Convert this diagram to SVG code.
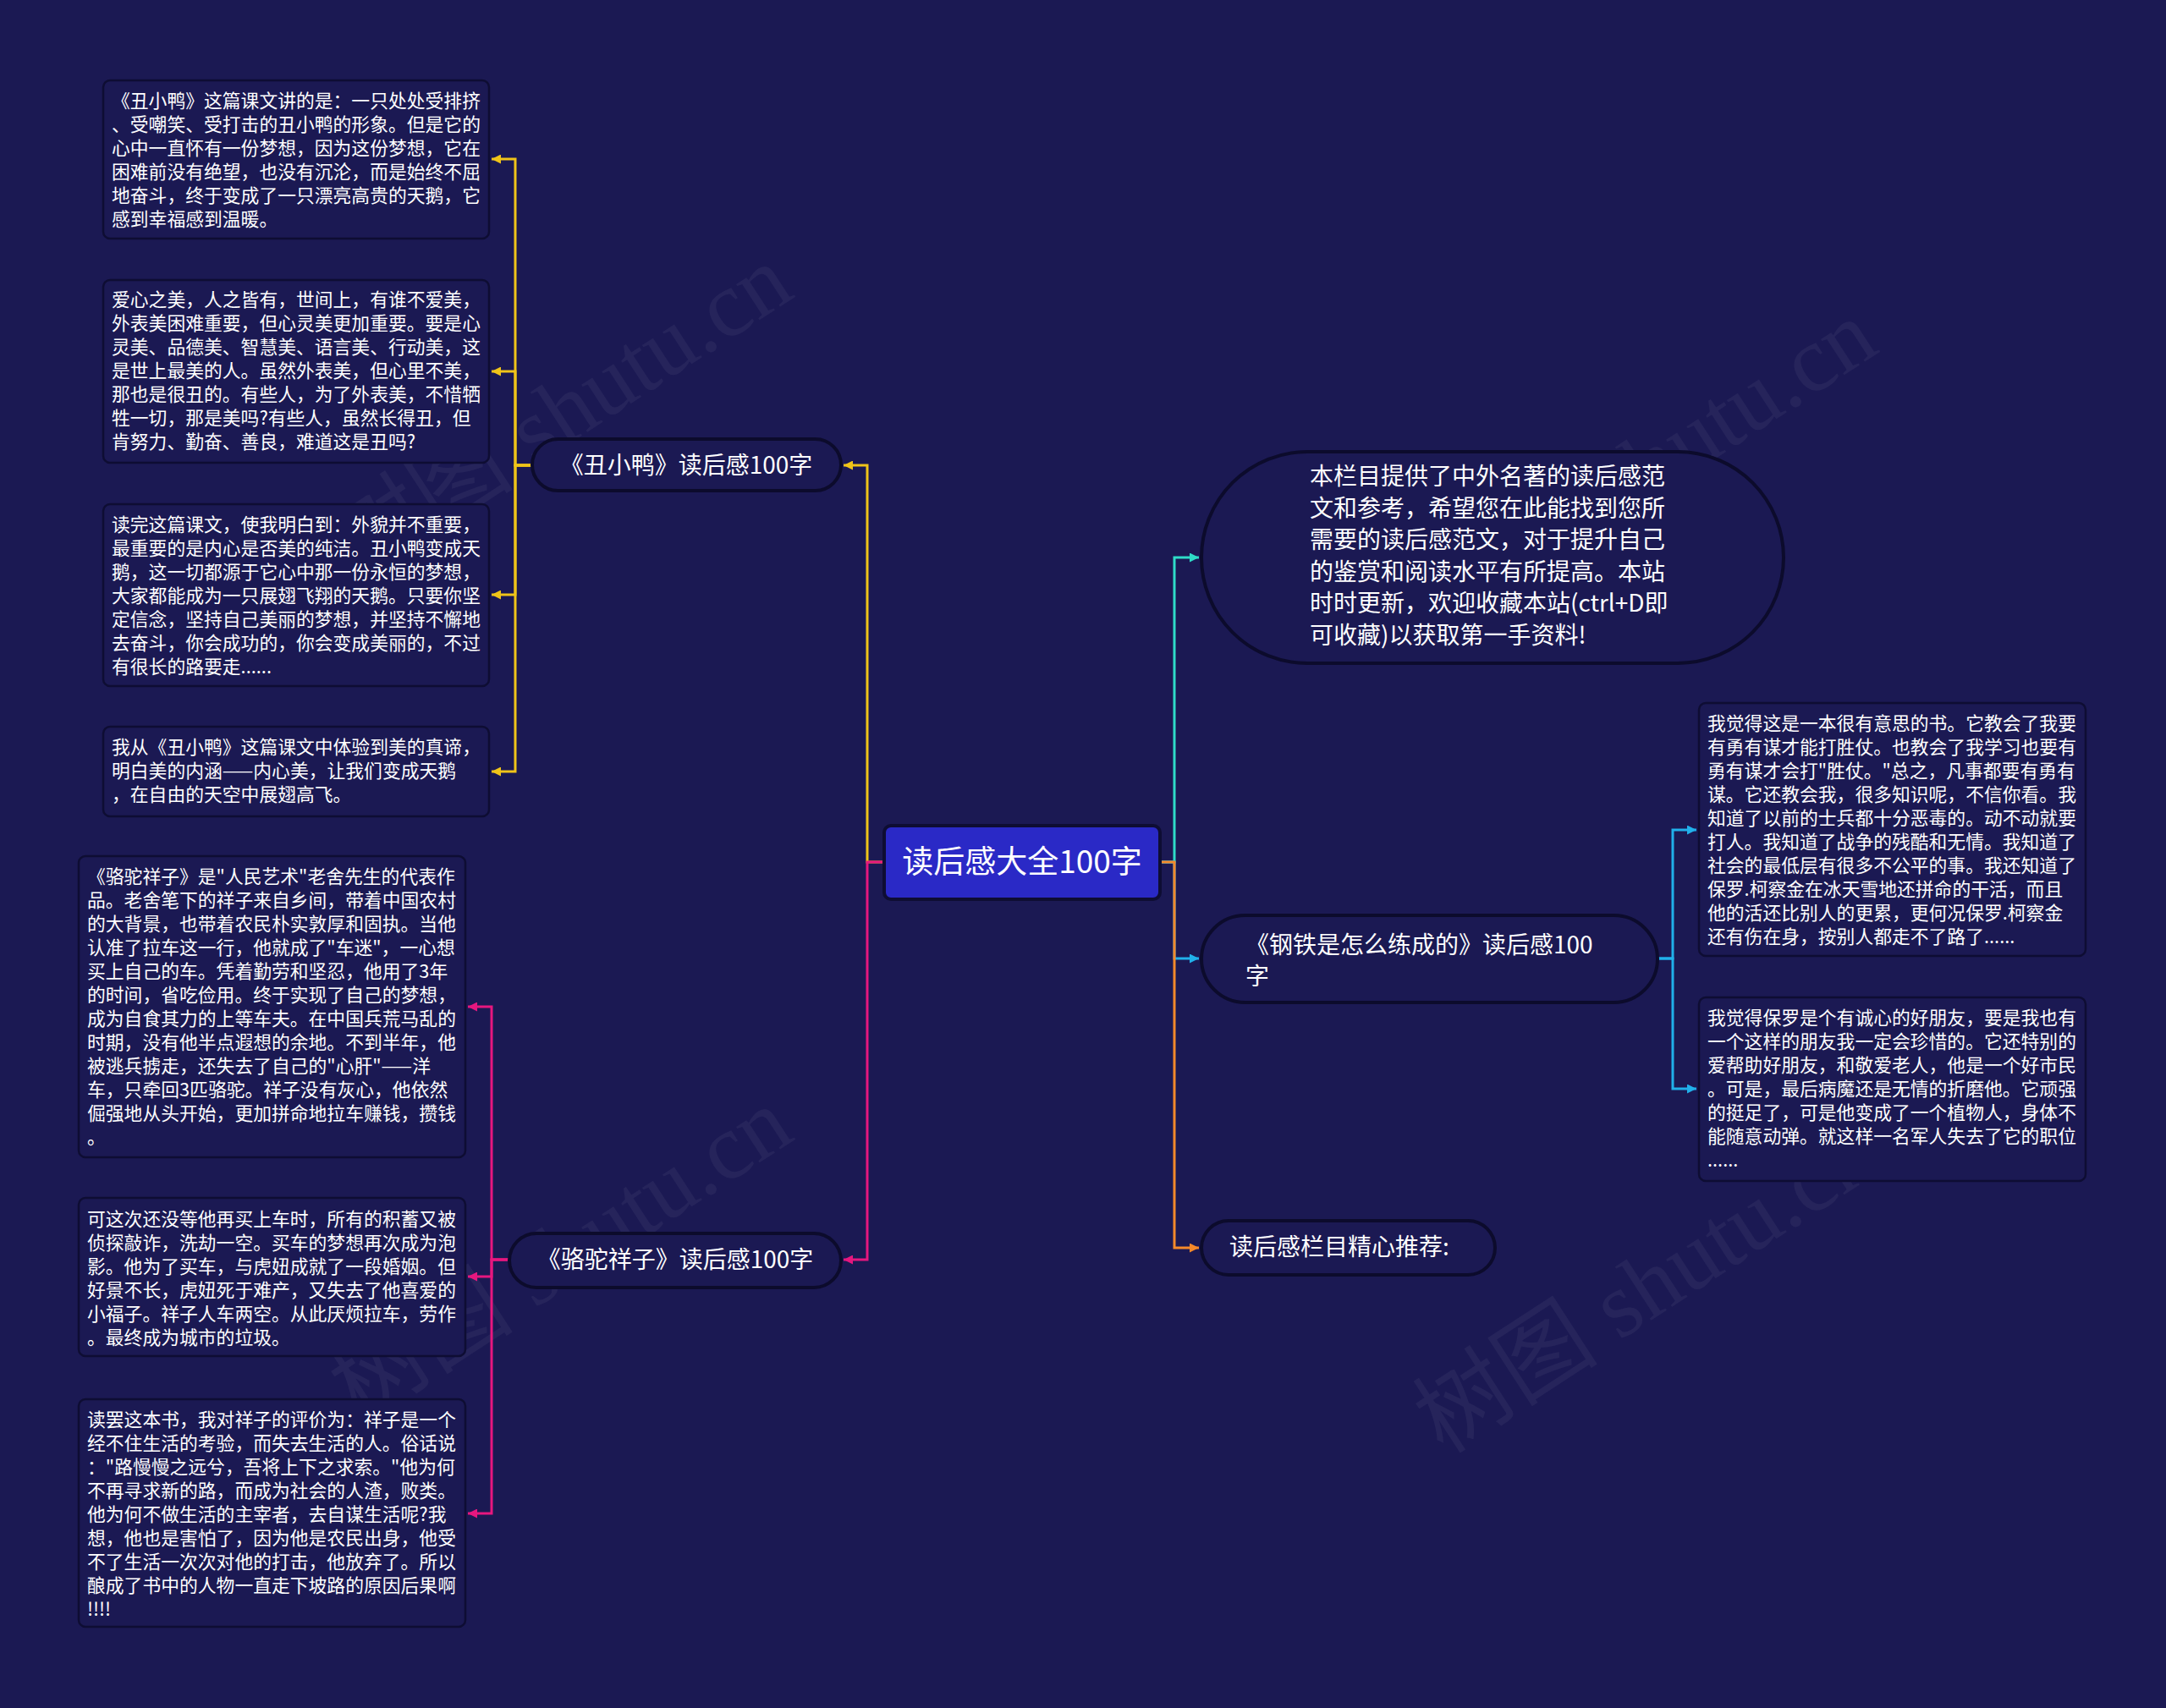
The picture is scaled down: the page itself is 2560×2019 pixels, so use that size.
<svg xmlns="http://www.w3.org/2000/svg" width="2560" height="2019" viewBox="0 0 2560 2019">
<defs>
<style>
.bg{fill:#1b1953}
.box{fill:#1b1953;stroke:#0e0d33;stroke-width:2.5}
.pill{fill:#1b1953;stroke:#0c0b2c;stroke-width:4}
.t{font-family:"Noto Sans CJK SC","Noto Sans",sans-serif;fill:#ffffff}
.s{font-size:21.8px}
.m{font-size:28px}
.c{font-size:37px}
.ln{fill:none;stroke-width:3}
.wm{font-family:"Liberation Serif","Noto Sans CJK SC",serif;font-size:110px;fill:#ffffff;fill-opacity:0.05}
</style>
<marker id="aY" viewBox="0 0 10 10" refX="10" refY="5" markerWidth="11" markerHeight="11" markerUnits="userSpaceOnUse" orient="auto"><path d="M0,0L10,5L0,10z" fill="#f0c419"/></marker>
<marker id="aM" viewBox="0 0 10 10" refX="10" refY="5" markerWidth="11" markerHeight="11" markerUnits="userSpaceOnUse" orient="auto"><path d="M0,0L10,5L0,10z" fill="#e6177f"/></marker>
<marker id="aC" viewBox="0 0 10 10" refX="10" refY="5" markerWidth="11" markerHeight="11" markerUnits="userSpaceOnUse" orient="auto"><path d="M0,0L10,5L0,10z" fill="#2fdcc8"/></marker>
<marker id="aB" viewBox="0 0 10 10" refX="10" refY="5" markerWidth="11" markerHeight="11" markerUnits="userSpaceOnUse" orient="auto"><path d="M0,0L10,5L0,10z" fill="#21b0ea"/></marker>
<marker id="aO" viewBox="0 0 10 10" refX="10" refY="5" markerWidth="11" markerHeight="11" markerUnits="userSpaceOnUse" orient="auto"><path d="M0,0L10,5L0,10z" fill="#f5892a"/></marker>
</defs>
<rect class="bg" x="0" y="0" width="2560" height="2019"/>

<g id="watermarks">
<text class="wm" transform="translate(424,686) rotate(-33)">树图 shutu.cn</text>
<text class="wm" transform="translate(1706,751) rotate(-33)">树图 shutu.cn</text>
<text class="wm" transform="translate(424,1682) rotate(-33)">树图 shutu.cn</text>
<text class="wm" transform="translate(1706,1720) rotate(-33)">树图 shutu.cn</text>
</g>

<g id="connectors">
<path class="ln" stroke="#f0c419" marker-end="url(#aY)" d="M1045,1019H1025V550H997"/>
<path class="ln" stroke="#e6177f" marker-end="url(#aM)" d="M1045,1019H1025V1489H997"/>
<path class="ln" stroke="#f0c419" marker-end="url(#aY)" d="M629,550H609V188H581"/>
<path class="ln" stroke="#f0c419" marker-end="url(#aY)" d="M629,550H609V439H581"/>
<path class="ln" stroke="#f0c419" marker-end="url(#aY)" d="M629,550H609V703H581"/>
<path class="ln" stroke="#f0c419" marker-end="url(#aY)" d="M629,550H609V912H581"/>
<path class="ln" stroke="#e6177f" marker-end="url(#aM)" d="M602,1489H581V1190H553"/>
<path class="ln" stroke="#e6177f" marker-end="url(#aM)" d="M602,1489H581V1509H553"/>
<path class="ln" stroke="#e6177f" marker-end="url(#aM)" d="M602,1489H581V1789H553"/>
<path class="ln" stroke="#2fdcc8" marker-end="url(#aC)" d="M1371,1019H1388V659H1417"/>
<path class="ln" stroke="#21b0ea" marker-end="url(#aB)" d="M1371,1019H1388V1133H1417"/>
<path class="ln" stroke="#f5892a" marker-end="url(#aO)" d="M1371,1019H1388V1475H1417"/>
<path class="ln" stroke="#21b0ea" marker-end="url(#aB)" d="M1959,1133H1977V981H2005"/>
<path class="ln" stroke="#21b0ea" marker-end="url(#aB)" d="M1959,1133H1977V1287H2005"/>
</g>

<g id="root">
<rect x="1045" y="976" width="326" height="87" rx="8" fill="#2a29c6" stroke="#0e0d33" stroke-width="4"/>
<text class="t c" x="1208" y="1032" text-anchor="middle">读后感大全100字</text>
</g>

<g id="n-chouxiaoya">
<rect class="pill" x="629" y="519" width="365" height="61" rx="30.5"/>
<text class="t m" x="811" y="560" text-anchor="middle">《丑小鸭》读后感100字</text>
</g>

<g id="n-luotuo">
<rect class="pill" x="602" y="1458" width="392" height="64" rx="32"/>
<text class="t m" x="798" y="1499" text-anchor="middle">《骆驼祥子》读后感100字</text>
</g>

<g id="n-intro">
<rect class="pill" x="1420" y="534" width="688" height="250" rx="125"/>
<text class="t m" x="1548" y="573">本栏目提供了中外名著的读后感范</text>
<text class="t m" x="1548" y="611">文和参考，希望您在此能找到您所</text>
<text class="t m" x="1548" y="648">需要的读后感范文，对于提升自己</text>
<text class="t m" x="1548" y="686">的鉴赏和阅读水平有所提高。本站</text>
<text class="t m" x="1548" y="723">时时更新，欢迎收藏本站(ctrl+D即</text>
<text class="t m" x="1548" y="761">可收藏)以获取第一手资料!</text>
</g>

<g id="n-gangtie">
<rect class="pill" x="1420" y="1082" width="539" height="103" rx="51.5"/>
<text class="t m" x="1472" y="1127">《钢铁是怎么练成的》读后感100</text>
<text class="t m" x="1472" y="1164">字</text>
</g>

<g id="n-tuijian">
<rect class="pill" x="1420" y="1443" width="347" height="64" rx="32"/>
<text class="t m" x="1453" y="1484">读后感栏目精心推荐:</text>
</g>

<g id="b1">
<rect class="box" x="122" y="95" width="456" height="187" rx="8"/>
<text class="t s" x="132" y="127">《丑小鸭》这篇课文讲的是：一只处处受排挤</text>
<text class="t s" x="132" y="155">、受嘲笑、受打击的丑小鸭的形象。但是它的</text>
<text class="t s" x="132" y="183">心中一直怀有一份梦想，因为这份梦想，它在</text>
<text class="t s" x="132" y="211">困难前没有绝望，也没有沉沦，而是始终不屈</text>
<text class="t s" x="132" y="239">地奋斗，终于变成了一只漂亮高贵的天鹅，它</text>
<text class="t s" x="132" y="267">感到幸福感到温暖。</text>
</g>

<g id="b2">
<rect class="box" x="122" y="331" width="456" height="216" rx="8"/>
<text class="t s" x="132" y="362">爱心之美，人之皆有，世间上，有谁不爱美，</text>
<text class="t s" x="132" y="390">外表美困难重要，但心灵美更加重要。要是心</text>
<text class="t s" x="132" y="418">灵美、品德美、智慧美、语言美、行动美，这</text>
<text class="t s" x="132" y="446">是世上最美的人。虽然外表美，但心里不美，</text>
<text class="t s" x="132" y="474">那也是很丑的。有些人，为了外表美，不惜牺</text>
<text class="t s" x="132" y="502">牲一切，那是美吗?有些人，虽然长得丑，但</text>
<text class="t s" x="132" y="530">肯努力、勤奋、善良，难道这是丑吗?</text>
</g>

<g id="b3">
<rect class="box" x="122" y="596" width="456" height="215" rx="8"/>
<text class="t s" x="132" y="628">读完这篇课文，使我明白到：外貌并不重要，</text>
<text class="t s" x="132" y="656">最重要的是内心是否美的纯洁。丑小鸭变成天</text>
<text class="t s" x="132" y="684">鹅，这一切都源于它心中那一份永恒的梦想，</text>
<text class="t s" x="132" y="712">大家都能成为一只展翅飞翔的天鹅。只要你坚</text>
<text class="t s" x="132" y="740">定信念，坚持自己美丽的梦想，并坚持不懈地</text>
<text class="t s" x="132" y="768">去奋斗，你会成功的，你会变成美丽的，不过</text>
<text class="t s" x="132" y="796">有很长的路要走......</text>
</g>

<g id="b4">
<rect class="box" x="122" y="859" width="456" height="106" rx="8"/>
<text class="t s" x="132" y="891">我从《丑小鸭》这篇课文中体验到美的真谛，</text>
<text class="t s" x="132" y="919">明白美的内涵——内心美，让我们变成天鹅</text>
<text class="t s" x="132" y="947">，在自由的天空中展翅高飞。</text>
</g>

<g id="b5">
<rect class="box" x="93" y="1012" width="457" height="356" rx="8"/>
<text class="t s" x="103" y="1044">《骆驼祥子》是"人民艺术"老舍先生的代表作</text>
<text class="t s" x="103" y="1072">品。老舍笔下的祥子来自乡间，带着中国农村</text>
<text class="t s" x="103" y="1100">的大背景，也带着农民朴实敦厚和固执。当他</text>
<text class="t s" x="103" y="1128">认准了拉车这一行，他就成了"车迷"，一心想</text>
<text class="t s" x="103" y="1156">买上自己的车。凭着勤劳和坚忍，他用了3年</text>
<text class="t s" x="103" y="1184">的时间，省吃俭用。终于实现了自己的梦想，</text>
<text class="t s" x="103" y="1212">成为自食其力的上等车夫。在中国兵荒马乱的</text>
<text class="t s" x="103" y="1240">时期，没有他半点遐想的余地。不到半年，他</text>
<text class="t s" x="103" y="1268">被逃兵掳走，还失去了自己的"心肝"——洋</text>
<text class="t s" x="103" y="1296">车，只牵回3匹骆驼。祥子没有灰心，他依然</text>
<text class="t s" x="103" y="1324">倔强地从头开始，更加拼命地拉车赚钱，攒钱</text>
<text class="t s" x="103" y="1352">。</text>
</g>

<g id="b6">
<rect class="box" x="93" y="1416" width="457" height="187" rx="8"/>
<text class="t s" x="103" y="1449">可这次还没等他再买上车时，所有的积蓄又被</text>
<text class="t s" x="103" y="1477">侦探敲诈，洗劫一空。买车的梦想再次成为泡</text>
<text class="t s" x="103" y="1505">影。他为了买车，与虎妞成就了一段婚姻。但</text>
<text class="t s" x="103" y="1533">好景不长，虎妞死于难产，又失去了他喜爱的</text>
<text class="t s" x="103" y="1561">小福子。祥子人车两空。从此厌烦拉车，劳作</text>
<text class="t s" x="103" y="1589">。最终成为城市的垃圾。</text>
</g>

<g id="b7">
<rect class="box" x="93" y="1654" width="457" height="269" rx="8"/>
<text class="t s" x="103" y="1686">读罢这本书，我对祥子的评价为：祥子是一个</text>
<text class="t s" x="103" y="1714">经不住生活的考验，而失去生活的人。俗话说</text>
<text class="t s" x="103" y="1742">："路慢慢之远兮，吾将上下之求索。"他为何</text>
<text class="t s" x="103" y="1770">不再寻求新的路，而成为社会的人渣，败类。</text>
<text class="t s" x="103" y="1798">他为何不做生活的主宰者，去自谋生活呢?我</text>
<text class="t s" x="103" y="1826">想，他也是害怕了，因为他是农民出身，他受</text>
<text class="t s" x="103" y="1854">不了生活一次次对他的打击，他放弃了。所以</text>
<text class="t s" x="103" y="1882">酿成了书中的人物一直走下坡路的原因后果啊</text>
<text class="t s" x="103" y="1910">!!!!</text>
</g>

<g id="b8">
<rect class="box" x="2008" y="831" width="457" height="299" rx="8"/>
<text class="t s" x="2018" y="863">我觉得这是一本很有意思的书。它教会了我要</text>
<text class="t s" x="2018" y="891">有勇有谋才能打胜仗。也教会了我学习也要有</text>
<text class="t s" x="2018" y="919">勇有谋才会打"胜仗。"总之，凡事都要有勇有</text>
<text class="t s" x="2018" y="947">谋。它还教会我，很多知识呢，不信你看。我</text>
<text class="t s" x="2018" y="975">知道了以前的士兵都十分恶毒的。动不动就要</text>
<text class="t s" x="2018" y="1003">打人。我知道了战争的残酷和无情。我知道了</text>
<text class="t s" x="2018" y="1031">社会的最低层有很多不公平的事。我还知道了</text>
<text class="t s" x="2018" y="1059">保罗.柯察金在冰天雪地还拼命的干活，而且</text>
<text class="t s" x="2018" y="1087">他的活还比别人的更累，更何况保罗.柯察金</text>
<text class="t s" x="2018" y="1115">还有伤在身，按别人都走不了路了......</text>
</g>

<g id="b9">
<rect class="box" x="2008" y="1179" width="457" height="217" rx="8"/>
<text class="t s" x="2018" y="1211">我觉得保罗是个有诚心的好朋友，要是我也有</text>
<text class="t s" x="2018" y="1239">一个这样的朋友我一定会珍惜的。它还特别的</text>
<text class="t s" x="2018" y="1267">爱帮助好朋友，和敬爱老人，他是一个好市民</text>
<text class="t s" x="2018" y="1295">。可是，最后病魔还是无情的折磨他。它顽强</text>
<text class="t s" x="2018" y="1323">的挺足了，可是他变成了一个植物人，身体不</text>
<text class="t s" x="2018" y="1351">能随意动弹。就这样一名军人失去了它的职位</text>
<text class="t s" x="2018" y="1379">......</text>
</g>
</svg>
